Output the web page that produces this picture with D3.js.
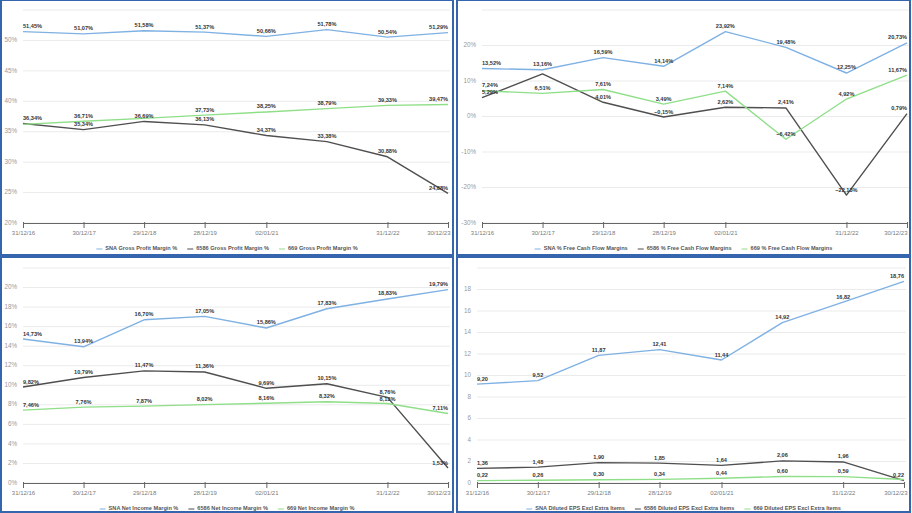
<!DOCTYPE html>
<html>
<head>
<meta charset="utf-8">
<script src="https://cdn.jsdelivr.net/npm/d3@7"></script>
<style>
  html, body { margin: 0; padding: 0; background: #ffffff; }
  svg { display: block; font-family: "Liberation Sans", Arial, sans-serif; }
</style>
</head>
<body>
<svg id="chart" width="912" height="513"></svg>
<script>
// ---------- DATA ----------
const dates = ["2016-12-31","2017-12-30","2018-12-29","2019-12-28","2021-01-02","2022-01-01","2022-12-31","2023-12-30"];
const tickDates = ["2016-12-31","2017-12-30","2018-12-29","2019-12-28","2021-01-02","2022-12-31","2023-12-30"];
const tickLabels = ["31/12/16","30/12/17","29/12/18","28/12/19","02/01/21","31/12/22","30/12/23"];
const companies = ["SNA","6586","669"];

const grossSNA  = [51.45, 51.07, 51.58, 51.37, 50.66, 51.78, 50.54, 51.29];
const gross6586 = [36.34, 35.34, 36.69, 36.13, 34.37, 33.38, 30.88, 24.88];
const gross669  = [36.20, 36.71, 37.20, 37.73, 38.25, 38.79, 39.33, 39.47];
const grossTicks = [20, 25, 30, 35, 40, 45, 50, 55];

const fcfSNA  = [13.52, 13.16, 16.59, 14.14, 23.92, 19.48, 12.25, 20.73];
const fcf6586 = [5.29, 12.00, 4.01, -0.15, 2.62, 2.41, -22.13, 0.79];
const fcf669  = [7.24, 6.51, 7.61, 3.49, 7.14, -6.42, 4.92, 11.67];
const fcfTicks = [-30, -20, -10, 0, 10, 20, 30];

const netSNA  = [14.73, 13.94, 16.70, 17.05, 15.86, 17.83, 18.83, 19.79];
const net6586 = [9.82, 10.79, 11.47, 11.36, 9.69, 10.15, 8.76, 1.53];
const net669  = [7.46, 7.76, 7.87, 8.02, 8.16, 8.32, 8.13, 7.11];
const netTicks = [0, 2, 4, 6, 8, 10, 12, 14, 16, 18, 20, 22];

const epsSNA  = [9.20, 9.52, 11.87, 12.41, 11.44, 14.92, 16.82, 18.76];
const eps6586 = [1.36, 1.48, 1.90, 1.85, 1.64, 2.06, 1.96, 0.22];
const eps669  = [0.22, 0.26, 0.30, 0.34, 0.44, 0.60, 0.59, 0.32];
const epsTicks = [0, 2, 4, 6, 8, 10, 12, 14, 16, 18, 20];

const metricNames = ["Gross Profit Margin %", "% Free Cash Flow Margins", "Net Income Margin %", "Diluted EPS Excl Extra Items"];

// ---------- STYLE / LAYOUT ----------
const colors = ["#7fb1e3", "#4f4f4f", "#8fdf88"];
const parse = d3.timeParse("%Y-%m-%d");
const loc = d3.formatLocale({decimal: ",", thousands: ".", grouping: [3], currency: ["", ""]});
const f2 = loc.format(".2f");

const panels = [
  {frame: [1, 0, 452, 255],   plot: {l: 23,  r: 448, t: 10,  b: 223}, series: [grossSNA, gross6586, gross669], ticks: grossTicks, pct: true,  metric: metricNames[0]},
  {frame: [457, 0, 453, 255], plot: {l: 482, r: 907, t: 10,  b: 223}, series: [fcfSNA, fcf6586, fcf669],       ticks: fcfTicks,   pct: true,  metric: metricNames[1]},
  {frame: [1, 257, 452, 255], plot: {l: 23,  r: 448, t: 268, b: 483}, series: [netSNA, net6586, net669],       ticks: netTicks,   pct: true,  metric: metricNames[2]},
  {frame: [457, 257, 453, 255], plot: {l: 477, r: 904, t: 268, b: 483}, series: [epsSNA, eps6586, eps669],     ticks: epsTicks,   pct: false, metric: metricNames[3]}
];

const svg = d3.select("#chart");
const xDates = dates.map(parse);

panels.forEach(p => {
  const g = svg.append("g");
  const {l, r, t, b} = p.plot;
  const frameRight = p.frame[0] + p.frame[2];

  const x = d3.scaleTime().domain(d3.extent(xDates)).range([l, r]);
  const y = d3.scaleLinear().domain(d3.extent(p.ticks)).range([b, t]);

  // gridlines
  g.selectAll(".grid").data(p.ticks).join("line")
    .attr("x1", l).attr("x2", r + 2)
    .attr("y1", d => y(d)).attr("y2", d => y(d))
    .attr("stroke", "#ebebeb").attr("stroke-width", 1);

  // y labels (top tick label hidden)
  g.selectAll(".ylab").data(p.ticks.slice(0, -1)).join("text")
    .attr("x", l - 6).attr("y", d => y(d))
    .attr("text-anchor", "end").attr("dominant-baseline", "middle")
    .attr("font-size", 6.3).attr("fill", "#9a9a9a")
    .text(d => p.pct ? d + "%" : d);

  // x axis
  const xAxis = d3.axisBottom(x)
    .tickValues(tickDates.map(parse))
    .tickFormat((d, i) => tickLabels[i])
    .tickSize(5).tickSizeOuter(0);
  const ax = g.append("g").attr("transform", `translate(0,${b})`).call(xAxis);
  ax.select(".domain").attr("stroke", "#666").attr("stroke-width", 1.2);
  ax.selectAll(".tick line").attr("stroke", "#666").attr("y1", -1);
  ax.selectAll(".tick text").attr("font-size", 6).attr("fill", "#7a7a7a")
    .attr("font-family", "Liberation Sans, Arial, sans-serif").attr("dy", "0.6em");
  // keep tick labels inside the frame
  ax.selectAll(".tick").each(function(d) {
    const tx = x(d);
    const txt = d3.select(this).select("text");
    const w = txt.node().getComputedTextLength();
    const maxRight = frameRight - 3;
    if (tx + w / 2 > maxRight) txt.attr("x", maxRight - w / 2 - tx);
  });

  // lines
  const line = d3.line().x((d, i) => x(xDates[i])).y(d => y(d));
  p.series.forEach((vals, si) => {
    g.append("path").datum(vals)
      .attr("d", line).attr("fill", "none")
      .attr("stroke", colors[si]).attr("stroke-width", 1.4)
      .attr("stroke-linejoin", "round");
  });

  // data labels with simple collision handling
  const labelG = g.append("g");
  xDates.forEach((dt, i) => {
    const placed = [];
    p.series.forEach((vals, si) => {
      const v = vals[i];
      let ly = y(v) - 5;
      if (placed.some(py => Math.abs(py - ly) < 5.5)) return;
      placed.forEach(py => {
        if (Math.abs(py - ly) < 7.5) ly = ly > py ? py + 7.5 : py - 7.5;
      });
      placed.push(ly);
      const txt = labelG.append("text")
        .attr("y", ly).attr("dominant-baseline", "middle")
        .attr("font-size", 5.6).attr("font-weight", "bold").attr("fill", "#333")
        .text(f2(v) + (p.pct ? "%" : ""));
      const w = txt.node().getComputedTextLength();
      let lx = x(dt) - w / 2;
      lx = Math.max(l, Math.min(r - w, lx));
      txt.attr("x", lx);
    });
  });

  // legend
  const legG = g.append("g");
  const legY = b + 26;
  const items = [];
  companies.forEach((c, i) => {
    const it = legG.append("g");
    it.append("line").attr("x1", 0).attr("x2", 6).attr("y1", 0).attr("y2", 0)
      .attr("stroke", colors[i]).attr("stroke-width", 1);
    const tt = it.append("text").attr("x", 9).attr("y", 0)
      .attr("dominant-baseline", "middle")
      .attr("font-size", 5.6).attr("font-weight", "bold").attr("fill", "#555")
      .text(c + " " + p.metric);
    const w = 9 + tt.node().getComputedTextLength();
    items.push({it, w});
  });
  const gap = 10;
  const total = d3.sum(items, d => d.w) + gap * (items.length - 1);
  const center = p.frame[0] + p.frame[2] / 2;
  let sx = center - total / 2;
  items.forEach(d => { d.it.attr("transform", `translate(${sx},${legY})`); sx += d.w + gap; });

  // frame
  svg.append("rect")
    .attr("x", p.frame[0]).attr("y", p.frame[1])
    .attr("width", p.frame[2]).attr("height", p.frame[3])
    .attr("fill", "none").attr("stroke", "#3465ad").attr("stroke-width", 2);
});
</script>
</body>
</html>
